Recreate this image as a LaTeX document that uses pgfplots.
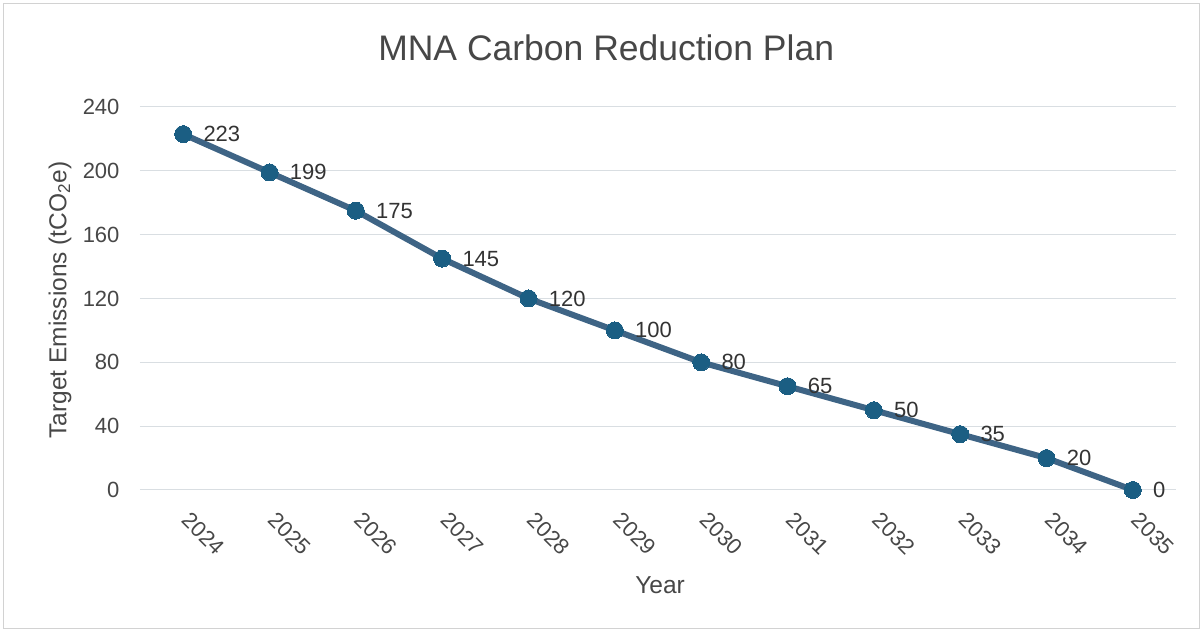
\documentclass[border=0pt]{standalone}
\usepackage{pgfplots}
\pgfplotsset{compat=1.18}
\usepackage{fontspec}
\setmainfont{Liberation Sans}
\definecolor{linec}{HTML}{3E6485}
\definecolor{markc}{HTML}{1B5E83}
\definecolor{txt}{HTML}{474747}
\definecolor{gridc}{HTML}{D9DEE2}
\newcommand{\lbl}{\fontsize{22}{26}\selectfont}
\newcommand{\albl}{\fontsize{24.5}{29}\selectfont}
\begin{document}
\begin{tikzpicture}
\path[use as bounding box] (0pt,0pt) rectangle (1202pt,631pt);
\begin{axis}[
  at={(140pt,141pt)}, anchor=south west,
  scale only axis, width=1036pt, height=383pt,
  xmin=-0.5, xmax=11.5, ymin=0, ymax=240,
  xtick={0,...,11},
  xticklabels={2024,2025,2026,2027,2028,2029,2030,2031,2032,2033,2034,2035},
  ytick={0,40,...,240},
  ymajorgrids, grid style={gridc, line width=1pt},
  axis line style={draw=none},
  major tick length=0pt,
  /pgf/number format/assume math mode=true,
  tick label style={font=\lbl, text=txt},
  yticklabel style={anchor=east, xshift=-17pt},
  xticklabel style={xshift=8pt, yshift=-16pt, rotate=-45, anchor=north west},
  title={MNA Carbon Reduction Plan},
  title style={font=\fontsize{35.5}{40}\selectfont, text=txt, at={(axis description cs:0.45,1.139)}, anchor=center},
  xlabel={Year},
  xlabel style={font=\albl, text=txt, at={(axis description cs:0.502,-0.248)}, anchor=center},
  ylabel={Target Emissions (tCO\textsubscript{2}e)},
  ylabel style={font=\albl, text=txt, at={(axis description cs:-0.0772,0.496)}, anchor=center},
  clip=false,
  nodes near coords,
  nodes near coords style={font=\lbl, text=black!80, anchor=west, xshift=17pt},
]
\addplot[color=linec, line width=6pt, mark=*, mark size=8.5pt, mark options={fill=markc, draw=markc, line width=0pt}]
coordinates {(0,223) (1,199) (2,175) (3,145) (4,120) (5,100) (6,80) (7,65) (8,50) (9,35) (10,20) (11,0)};
\end{axis}
\draw[gray!35, line width=0.8pt] (3pt,3pt) rectangle (1199pt,628pt);
\end{tikzpicture}
\end{document}
